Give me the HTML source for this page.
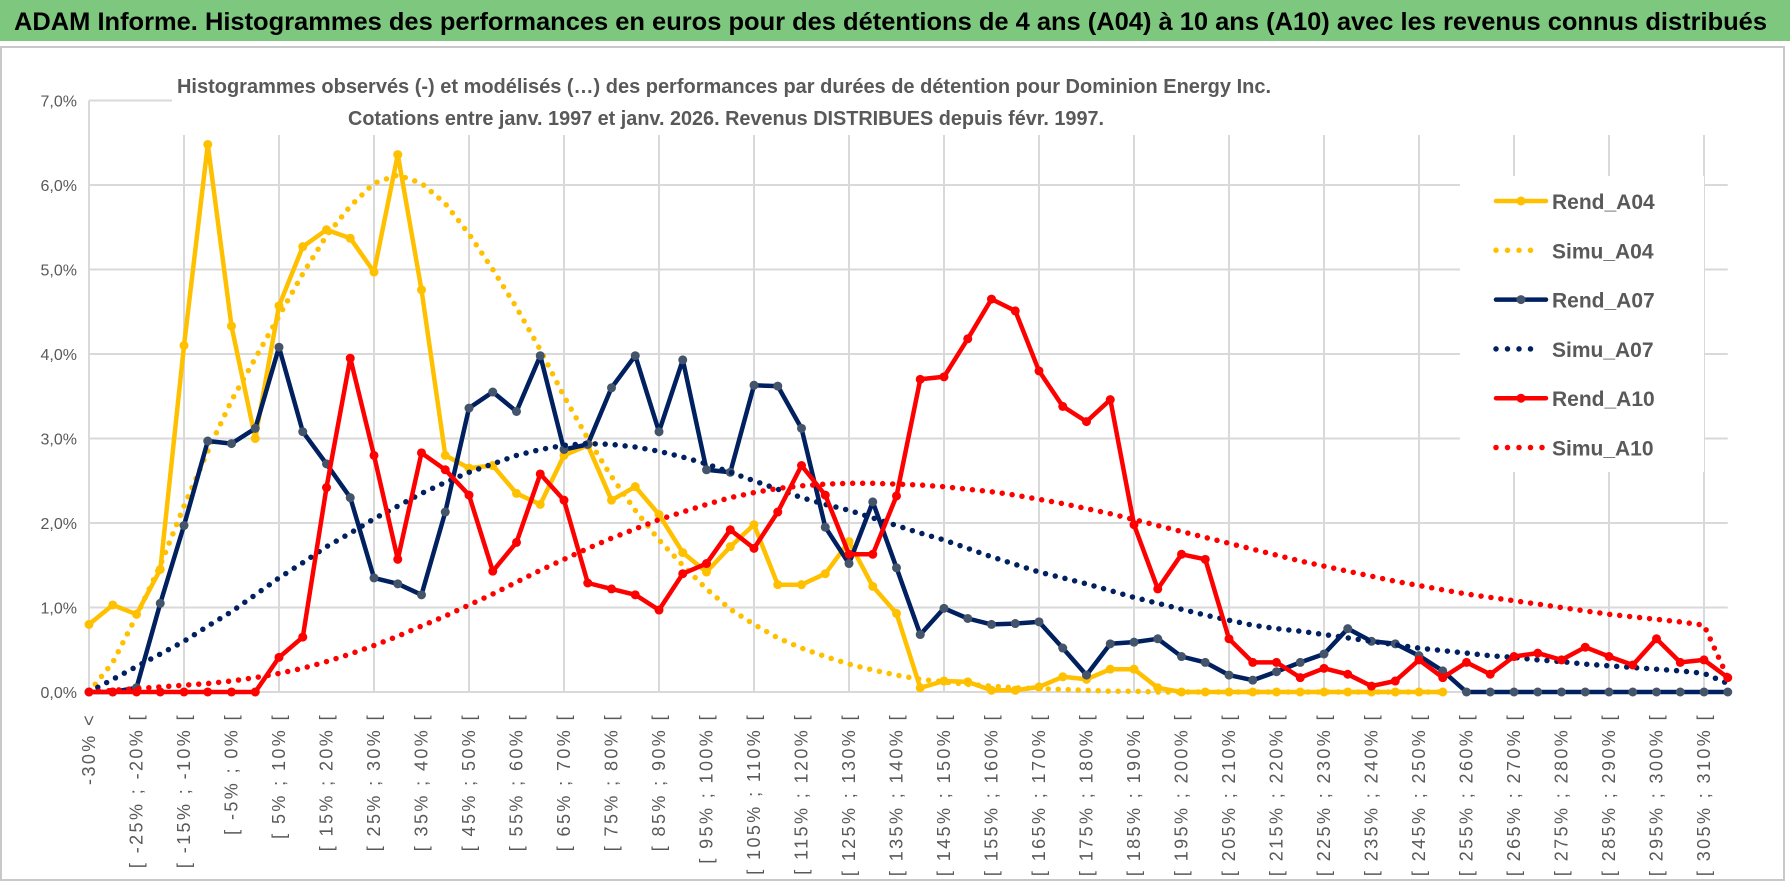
<!DOCTYPE html>
<html><head><meta charset="utf-8">
<style>
html,body{margin:0;padding:0;background:#fff;}
svg{display:block;font-family:"Liberation Sans",sans-serif;}
</style></head>
<body>
<svg id="chart" width="1790" height="888" viewBox="0 0 1790 888" xmlns="http://www.w3.org/2000/svg">
<rect x="0" y="0" width="1790" height="888" fill="#fff"/>
<rect x="0" y="0" width="1790" height="41" fill="#7dc87e"/>
<text x="14" y="30" font-size="25" font-weight="bold" fill="#000" textLength="1753" lengthAdjust="spacingAndGlyphs">ADAM Informe. Histogrammes des performances en euros pour des détentions de 4 ans (A04) à 10 ans (A10) avec les revenus connus distribués</text>
<rect x="1" y="47" width="1783" height="833" fill="none" stroke="#c8c8c8" stroke-width="2"/>
<g id="grid"></g>
<g id="yaxis"></g>
<g id="xaxis"></g>
<g id="series"></g>
<rect x="172" y="66" width="1560" height="69" fill="#fff"/>
<text x="724" y="93" text-anchor="middle" font-size="20" font-weight="bold" fill="#595959" textLength="1094" lengthAdjust="spacingAndGlyphs">Histogrammes observés (-) et modélisés (…) des performances par durées de détention pour Dominion Energy Inc.</text>
<text x="726" y="125" text-anchor="middle" font-size="20" font-weight="bold" fill="#595959" textLength="756" lengthAdjust="spacingAndGlyphs">Cotations entre janv. 1997 et janv. 2026. Revenus DISTRIBUES depuis févr. 1997.</text>
<g id="legend"></g>
</svg>
<script>
const categories = (function(){const a=['-30% <'];for(let k=1;k<70;k++){const lo=-35+5*k;a.push(k===69?'> 310%':'[ '+lo+'% ; '+(lo+5)+'% [');}return a;})();
const yTicks = [0,1,2,3,4,5,6,7];
const yTickLabels = ['0,0%','1,0%','2,0%','3,0%','4,0%','5,0%','6,0%','7,0%'];
const rendA04 = [0.8,1.03,0.92,1.45,4.1,6.48,4.33,3.0,4.57,5.27,5.47,5.37,4.97,6.36,4.76,2.8,2.65,2.68,2.35,2.22,2.8,2.92,2.27,2.43,2.1,1.65,1.42,1.72,1.98,1.27,1.27,1.4,1.78,1.25,0.93,0.05,0.13,0.12,0.02,0.02,0.06,0.18,0.15,0.27,0.27,0.05,0,0,0,0,0,0,0,0,0,0,0,0];
const simuA04 = [0,0.35,0.9,1.5,2.2,2.85,3.45,3.95,4.45,4.95,5.4,5.75,6.02,6.12,6.02,5.78,5.42,5.0,4.55,4.05,3.5,3.0,2.55,2.15,1.8,1.5,1.22,0.98,0.8,0.64,0.52,0.42,0.33,0.26,0.2,0.15,0.12,0.09,0.07,0.05,0.04,0.03,0.02,0.01,0.01,0,0,0,0,0,0,0,0,0,0,0,0,0];
const rendA07 = [0,0,0.05,1.05,1.97,2.97,2.94,3.12,4.08,3.08,2.7,2.3,1.35,1.28,1.15,2.13,3.36,3.55,3.32,3.98,2.87,2.93,3.6,3.98,3.08,3.93,2.63,2.6,3.63,3.62,3.12,1.95,1.52,2.25,1.47,0.68,0.99,0.87,0.8,0.81,0.83,0.52,0.2,0.57,0.59,0.63,0.42,0.35,0.2,0.14,0.24,0.35,0.45,0.75,0.6,0.57,0.43,0.25,0,0,0,0,0,0,0,0,0,0,0,0];
const simuA07 = [0,0.15,0.3,0.45,0.6,0.78,0.95,1.15,1.35,1.53,1.72,1.88,2.05,2.2,2.35,2.48,2.6,2.7,2.8,2.87,2.92,2.94,2.93,2.9,2.85,2.78,2.7,2.6,2.5,2.4,2.3,2.22,2.15,2.06,1.97,1.88,1.8,1.7,1.6,1.51,1.42,1.35,1.28,1.2,1.12,1.05,0.98,0.91,0.85,0.79,0.75,0.72,0.68,0.64,0.6,0.56,0.52,0.49,0.46,0.43,0.41,0.38,0.36,0.33,0.31,0.29,0.27,0.25,0.22,0.1];
const rendA10 = [0,0,0,0,0,0,0,0,0.41,0.65,2.42,3.95,2.8,1.57,2.83,2.63,2.33,1.43,1.77,2.58,2.27,1.29,1.22,1.15,0.97,1.4,1.52,1.92,1.7,2.13,2.68,2.33,1.63,1.63,2.32,3.7,3.73,4.18,4.65,4.51,3.8,3.38,3.2,3.46,1.98,1.22,1.63,1.57,0.63,0.35,0.35,0.17,0.28,0.21,0.07,0.13,0.38,0.17,0.35,0.21,0.42,0.46,0.38,0.53,0.42,0.32,0.63,0.35,0.38,0.17];
const simuA10 = [0,0.02,0.04,0.06,0.08,0.1,0.13,0.17,0.22,0.28,0.36,0.45,0.55,0.66,0.78,0.9,1.03,1.16,1.3,1.44,1.57,1.7,1.82,1.93,2.04,2.13,2.22,2.3,2.36,2.41,2.44,2.46,2.47,2.47,2.46,2.45,2.43,2.4,2.37,2.33,2.28,2.23,2.17,2.11,2.04,1.97,1.9,1.83,1.76,1.69,1.62,1.55,1.49,1.43,1.37,1.31,1.26,1.21,1.16,1.12,1.08,1.04,1.0,0.96,0.92,0.89,0.86,0.83,0.79,0.17];

const NS='http://www.w3.org/2000/svg';
const X0=89, XSTEP=23.75, Y0=692, YUNIT=84.5;
function xPos(i){return X0+i*XSTEP;}
function yPos(v){return Y0-v*YUNIT;}
function mk(tag,attrs,parent){const e=document.createElementNS(NS,tag);for(const k in attrs)e.setAttribute(k,attrs[k]);parent.appendChild(e);return e;}

const grid=document.getElementById('grid');
yTicks.forEach(function(t){
  const l=mk('line',{x1:X0,x2:xPos(69),y1:yPos(t),y2:yPos(t),stroke:'#d9d9d9','stroke-width':2},grid);
  
  
});
for(let i=0;i<categories.length;i+=4){
  const l=mk('line',{x1:xPos(i),x2:xPos(i),y1:(i===0?yPos(7):135),y2:Y0,stroke:'#d9d9d9','stroke-width':2},grid);
  
  
}
const ya=document.getElementById('yaxis');
yTicks.forEach(function(t,i){
  const tx=mk('text',{x:77,y:yPos(t)+6,'text-anchor':'end','font-size':16,fill:'#595959'},ya);
  tx.textContent=yTickLabels[i];
  
  
});
const xa=document.getElementById('xaxis');
for(let i=0;i<categories.length;i+=2){
  if(i===69)continue;
  const x=xPos(i)+6, y=713;
  const tx=mk('text',{x:x,y:y,'text-anchor':'end','font-size':18,'letter-spacing':2.4,fill:'#595959',transform:'rotate(-90 '+x+' '+y+')'},xa);
  tx.textContent=categories[i];
  
  
}

const S=document.getElementById('series');
function pts(arr){return arr.map(function(v,i){return xPos(i).toFixed(1)+','+yPos(v).toFixed(1);}).join(' ');}
function solid(arr,color,marker,name){
  const g=mk('g',{},S);
  
  
  mk('polyline',{points:pts(arr),fill:'none',stroke:color,'stroke-width':4.5,'stroke-linejoin':'round'},g);
  arr.forEach(function(v,i){
    const c=mk('circle',{cx:xPos(i),cy:yPos(v),r:4.5,fill:marker},g);
    
    
  });
}
function dotted(arr,color,name){
  const p=mk('polyline',{points:pts(arr),fill:'none',stroke:color,'stroke-width':5.5,'stroke-linecap':'round','stroke-dasharray':'0 10'},S);
  
  
}
solid(rendA04,'#FFC000','#FFC000','rend-a04-line');
dotted(simuA04,'#FFC000','simu-a04-line');
solid(rendA07,'#002060','#44546A','rend-a07-line');
dotted(simuA07,'#002060','simu-a07-line');
solid(rendA10,'#FF0000','#FF0000','rend-a10-line');
dotted(simuA10,'#FF0000','simu-a10-line');

const L=document.getElementById('legend');
mk('rect',{x:1460,y:176,width:244,height:296,fill:'#fff'},L);
const legNames=['Rend_A04','Simu_A04','Rend_A07','Simu_A07','Rend_A10','Simu_A10'];
const legColors=['#FFC000','#FFC000','#002060','#002060','#FF0000','#FF0000'];
const legMarkers=['#FFC000',null,'#44546A',null,'#FF0000',null];
legNames.forEach(function(n,i){
  const y=201+i*49.3;
  const g=mk('g',{},L);
  
  
  if(legMarkers[i]){
    mk('line',{x1:1496,x2:1546,y1:y,y2:y,stroke:legColors[i],'stroke-width':4.5,'stroke-linecap':'round'},g);
    mk('circle',{cx:1521,cy:y,r:4.5,fill:legMarkers[i]},g);
  } else {
    mk('line',{x1:1496,x2:(i===5?1545:1537),y1:y,y2:y,stroke:legColors[i],'stroke-width':5.5,'stroke-linecap':'round','stroke-dasharray':'0 11.5'},g);
  }
  const t=mk('text',{x:1552,y:y+8,'font-size':21,'font-weight':'bold',fill:'#595959'},g);
  t.textContent=n;
});
</script>
</body></html>
